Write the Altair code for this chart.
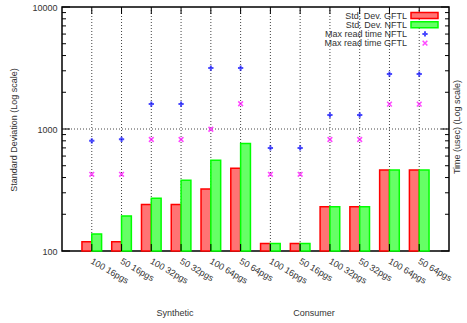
import altair as alt
import pandas as pd

# ---- data -------------------------------------------------------------
categories = ["100 16pgs", "50 16pgs", "100 32pgs", "50 32pgs", "100 64pgs", "50 64pgs",
              "100 16pgs", "50 16pgs", "100 32pgs", "50 32pgs", "100 64pgs", "50 64pgs"]
groups = ["Synthetic"] * 6 + ["Consumer"] * 6
std_dev_gftl = [119, 119, 240, 240, 322, 476, 115, 115, 231, 231, 461, 461]
std_dev_nftl = [138, 194, 270, 380, 554, 759, 115, 115, 231, 231, 461, 461]
max_read_nftl = [800, 823, 1600, 1600, 3160, 3160, 700, 700, 1300, 1300, 2820, 2820]
max_read_gftl = [425, 425, 820, 820, 995, 1610, 425, 425, 820, 820, 1600, 1600]

y_labels = [100, 1000, 10000]
y_major = [100, 1000, 10000]
y_minor = [200, 300, 400, 500, 600, 700, 800, 900,
           2000, 3000, 4000, 5000, 6000, 7000, 8000, 9000]

legend_labels = ["Std. Dev. GFTL", "Std. Dev. NFTL", "Max read time NFTL", "Max read time GFTL"]
group_labels = ["Synthetic", "Consumer"]

# ---- styling ----------------------------------------------------------
W, H = 387, 244
FONT = "Liberation Sans"
TXT = "#333333"
RED, GREEN, BLUE, MAGENTA = "#ff0000", "#00ff00", "#0000ff", "#ff00ff"
RED_FILL, GREEN_FILL = "#ff7474", "#66ff66"
PLUS = "M-1,0H1M0,-1V1"
XMARK = "M-1,-1L1,1M-1,1L1,-1"

idx = list(range(len(categories)))
df = pd.DataFrame({
    "i": idx, "cat": categories, "group": groups,
    "gftl": std_dev_gftl, "nftl": std_dev_nftl,
    "max_nftl": max_read_nftl, "max_gftl": max_read_gftl,
})

xs = alt.Scale(domain=[-1, 12], nice=False, zero=False)
ys = alt.Scale(type="log", domain=[100, 10000], nice=False)

y_axis = alt.Axis(values=y_labels, format="d", ticks=False, domain=False, grid=False,
                  labelFont=FONT, labelFontSize=9, labelColor=TXT, labelPadding=5,
                  labelFlush=False, title=None)

base = alt.Chart(df)

# horizontal dotted grid at the middle decade (also carries the left axis labels)
hgrid = alt.Chart(pd.DataFrame({"v": [1000]})).mark_rule(
    color="#444444", strokeDash=[1, 2], strokeWidth=1).encode(
    y=alt.Y("v:Q", scale=ys, axis=y_axis), x=alt.value(0), x2=alt.value(W))

# vertical dotted grid at each category
vgrid = base.mark_rule(color="#444444", strokeDash=[1, 2], strokeWidth=1).encode(
    x=alt.X("i:Q", scale=xs, axis=None), y=alt.value(0), y2=alt.value(H))

bars_g = base.transform_calculate(x0="datum.i - 0.33", x1="datum.i").mark_bar(
    fill=RED_FILL, stroke=RED, strokeWidth=1.5).encode(
    x=alt.X("x0:Q", scale=xs, axis=None), x2="x1:Q",
    y=alt.Y("gftl:Q", scale=ys, axis=y_axis), y2=alt.datum(100))

bars_n = base.transform_calculate(x0="datum.i", x1="datum.i + 0.33").mark_bar(
    fill=GREEN_FILL, stroke=GREEN, strokeWidth=1.5).encode(
    x=alt.X("x0:Q", scale=xs, axis=None), x2="x1:Q",
    y=alt.Y("nftl:Q", scale=ys, axis=y_axis), y2=alt.datum(100))

pts_n = base.mark_point(shape=PLUS, size=28, filled=False, stroke=BLUE, strokeWidth=2).encode(
    x=alt.X("i:Q", scale=xs, axis=None), y=alt.Y("max_nftl:Q", scale=ys, axis=y_axis))
pts_g = base.mark_point(shape=XMARK, size=22, filled=False, stroke=MAGENTA, strokeWidth=1.6).encode(
    x=alt.X("i:Q", scale=xs, axis=None), y=alt.Y("max_gftl:Q", scale=ys, axis=y_axis))

# inward tick marks on all four sides
maj = alt.Chart(pd.DataFrame({"v": y_major}))
mnr = alt.Chart(pd.DataFrame({"v": y_minor}))
tick_style = dict(color="black", strokeWidth=1)
ticks = [
    maj.mark_rule(**tick_style).encode(y=alt.Y("v:Q", scale=ys, axis=y_axis), x=alt.value(0), x2=alt.value(8)),
    maj.mark_rule(**tick_style).encode(y=alt.Y("v:Q", scale=ys, axis=y_axis), x=alt.value(W), x2=alt.value(W - 8)),
    mnr.mark_rule(**tick_style).encode(y=alt.Y("v:Q", scale=ys, axis=y_axis), x=alt.value(0), x2=alt.value(4)),
    mnr.mark_rule(**tick_style).encode(y=alt.Y("v:Q", scale=ys, axis=y_axis), x=alt.value(W), x2=alt.value(W - 4)),
    base.mark_rule(**tick_style).encode(x=alt.X("i:Q", scale=xs, axis=None), y=alt.value(0), y2=alt.value(7)),
    base.mark_rule(**tick_style).encode(x=alt.X("i:Q", scale=xs, axis=None), y=alt.value(H), y2=alt.value(H - 7)),
]

# rotated category labels
cat_text = base.mark_text(angle=30, align="left", baseline="top", font=FONT, fontSize=9,
                          color=TXT, dx=2, dy=0).encode(
    x=alt.X("i:Q", scale=xs, axis=None), y=alt.value(H + 5), text="cat:N")

# group labels under the categories
grp = alt.Chart(pd.DataFrame({"g": group_labels, "px": [113, 252]})).mark_text(
    font=FONT, fontSize=9, color=TXT, baseline="middle").encode(
    x=alt.X("px:Q", scale=None), y=alt.value(306), text="g:N")

# axis titles
ytitle = alt.Chart(pd.DataFrame({"t": ["Standard Deviation (Log scale)"]})).mark_text(
    font=FONT, fontSize=9, color=TXT, angle=270, baseline="middle").encode(
    x=alt.value(-48), y=alt.value(123), text="t:N")
y2title = alt.Chart(pd.DataFrame({"t": ["Time (usec) (Log scale)"]})).mark_text(
    font=FONT, fontSize=9, color=TXT, angle=270, baseline="middle").encode(
    x=alt.value(W + 8), y=alt.value(120), text="t:N")

# legend (top right, inside the frame)
leg = pd.DataFrame({"label": legend_labels, "row": [0, 1, 2, 3]})
leg_base = alt.Chart(leg).transform_calculate(ypix="8.5 + datum.row * 9.2")
leg_text = leg_base.mark_text(font=FONT, fontSize=9, color=TXT, align="right", baseline="middle").encode(
    x=alt.value(345), y=alt.Y("ypix:Q", scale=None), text="label:N")
leg_red = leg_base.transform_filter("datum.row == 0").transform_calculate(
    y0="datum.ypix - 3", y1="datum.ypix + 3").mark_rect(
    fill=RED_FILL, stroke=RED, strokeWidth=1.5).encode(
    x=alt.value(349), x2=alt.value(376), y=alt.Y("y0:Q", scale=None), y2="y1:Q")
leg_green = leg_base.transform_filter("datum.row == 1").transform_calculate(
    y0="datum.ypix - 3", y1="datum.ypix + 3").mark_rect(
    fill=GREEN_FILL, stroke=GREEN, strokeWidth=1.5).encode(
    x=alt.value(349), x2=alt.value(376), y=alt.Y("y0:Q", scale=None), y2="y1:Q")
leg_blue = leg_base.transform_filter("datum.row == 2").mark_point(
    shape=PLUS, size=28, filled=False, stroke=BLUE, strokeWidth=2).encode(
    x=alt.value(363), y=alt.Y("ypix:Q", scale=None))
leg_mag = leg_base.transform_filter("datum.row == 3").mark_point(
    shape=XMARK, size=22, filled=False, stroke=MAGENTA, strokeWidth=1.6).encode(
    x=alt.value(363), y=alt.Y("ypix:Q", scale=None))

chart = alt.layer(
    hgrid, vgrid, bars_g, bars_n, pts_n, pts_g, *ticks,
    cat_text, grp, ytitle, y2title,
    leg_text, leg_red, leg_green, leg_blue, leg_mag,
).properties(
    width=W, height=H,
    autosize=alt.AutoSizeParams(type="none"),
    padding={"left": 62, "top": 7, "right": 18, "bottom": 72},
    background="white",
).configure_view(stroke="black", strokeWidth=1.5)

chart.save("out.html", embed_options={"renderer": "svg", "actions": False})
